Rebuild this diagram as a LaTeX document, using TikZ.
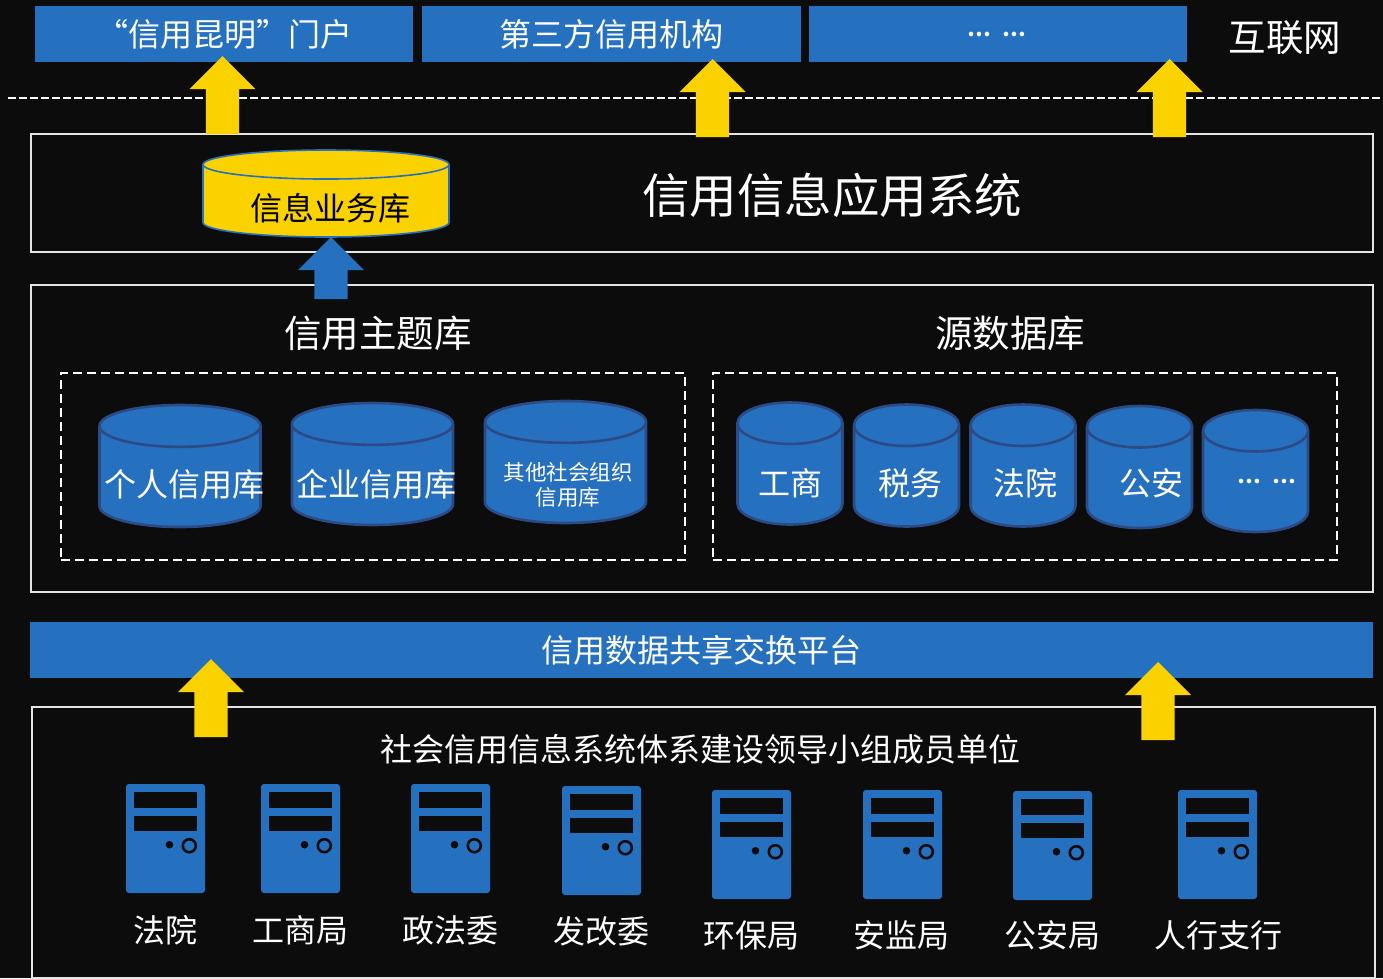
\documentclass[tikz,border=0pt]{standalone}
\usepackage{fontspec}
\setmainfont{Noto Sans CJK SC}
\usepackage{xcolor}
\usetikzlibrary{shapes.geometric,shapes.arrows}
\definecolor{pagebg}{HTML}{0C0C0C}
\definecolor{mainblue}{HTML}{2670C0}
\definecolor{edgeblue}{HTML}{2C4A84}
\definecolor{mainyellow}{HTML}{FAD200}
\newcommand{\px}[1]{\fontsize{#1}{#1}\selectfont}
\newcommand{\moredots}{\bfseries …\hspace{11pt}…}
\tikzset{
    bluebox/.style={rectangle, fill=mainblue, text=white, inner sep=0pt, outer sep=0pt, font=\px{32}},
    frame/.style={rectangle, draw=white!90!black, line width=1.8pt, inner sep=0pt, outer sep=0pt},
    dashframe/.style={rectangle, draw=white, line width=1.8pt, dash pattern=on 9pt off 5pt, inner sep=0pt, outer sep=0pt, minimum width=624, minimum height=187},
    blockarrow/.style={single arrow, shape border rotate=90, anchor=tail, minimum height=78, minimum width=66, single arrow head extend=16.5, single arrow tip angle=90, inner ysep=0pt, inner xsep=16.5pt, outer sep=0pt},
    dbcyl/.style={cylinder, shape border rotate=90, anchor=shape center, fill=mainblue, draw=edgeblue, line width=2.6pt, inner ysep=0pt, inner xsep=#1, outer sep=0pt, minimum height=122},
    lbl/.style={text=white, inner sep=0pt, font=\px{32}}
}
\begin{document}
\begin{tikzpicture}[x=1pt,y=-1pt]
    \useasboundingbox[fill=pagebg] (0,0) rectangle (1383,978);

    \node (portal) [bluebox, minimum width=378, minimum height=56] at (224,34) {};
    \node (agency) [bluebox, minimum width=379, minimum height=56] at (611.5,34) {第三方信用机构};
    \node (others) [bluebox, minimum width=378, minimum height=56] at (998,34) {};
    \node (portaltxt) [lbl] at (224.5,34) {“信用昆明”门户};
    \node (otherstxt) [lbl, font=\px{21}] at (997,34) {\moredots};
    \node (internet) [lbl, font=\px{37.5}] at (1285,38) {互联网};

    \coordinate (dashl) at (8,98);
    \coordinate (dashr) at (1383,98);
    \draw[white, line width=2pt, dash pattern=on 8pt off 3pt] (dashl) -- (dashr);

    \node (appframe) [frame, minimum width=1342, minimum height=118] at (702,193) {};
    \node (dbframe) [frame, minimum width=1342, minimum height=307] at (702,438.5) {};
    \node (unitframe) [frame, minimum width=1343, minimum height=271] at (703.5,842.5) {};

    \node (apptitle) [lbl, font=\px{47.5}] at (832,195) {信用信息应用系统};
    \node (bizdb) [dbcyl=123pt, fill=mainyellow, draw=mainblue, line width=1.6pt, minimum height=87, aspect=0.118] at (326,193.5) {};
    \node (bizdbtxt) [lbl, text=black] at (330,208) {信息业务库};

    \node (themetitle) [lbl, font=\px{37.5}] at (378,333.5) {信用主题库};
    \node (srctitle) [lbl, font=\px{37.5}] at (1010,333.5) {源数据库};
    \node (themebox) [dashframe] at (373,466.5) {};
    \node (srcbox) [dashframe] at (1025,466.5) {};

    \node (person) [dbcyl=80.5pt, aspect=0.26] at (180,466) {};
    \node (persontxt) [lbl] at (184,484) {个人信用库};
    \node (firm) [dbcyl=80.5pt, aspect=0.26] at (372.5,464) {};
    \node (firmtxt) [lbl] at (376,484) {企业信用库};
    \node (social) [dbcyl=80.5pt, aspect=0.26] at (565.5,462) {};
    \node (socialtxt) [lbl, font=\px{21.5}, align=center] at (568,485) {其他社会组织\\[4pt]信用库};

    \node (src1) [dbcyl=52.5pt, aspect=0.395] at (790,463.5) {};
    \node (src1txt) [lbl] at (790,483) {工商};
    \node (src2) [dbcyl=52.5pt, aspect=0.395] at (906.5,465.5) {};
    \node (src2txt) [lbl] at (910,483) {税务};
    \node (src3) [dbcyl=52.5pt, aspect=0.395] at (1023,465.5) {};
    \node (src3txt) [lbl] at (1025,483) {法院};
    \node (src4) [dbcyl=52.5pt, aspect=0.395] at (1139.5,467) {};
    \node (src4txt) [lbl] at (1151,483) {公安};
    \node (src5) [dbcyl=52.5pt, aspect=0.395] at (1255.5,471) {};
    \node (src5txt) [lbl, font=\px{21}] at (1267,481) {\moredots};

    \node (platform) [bluebox, minimum width=1343, minimum height=56] at (701.5,650) {};
    \node (platformtxt) [lbl] at (701,650) {信用数据共享交换平台};
    \node (unittitle) [lbl] at (700,749) {社会信用信息系统体系建设领导小组成员单位};

    \node (up1) [blockarrow, fill=mainyellow] at (222.5,134) {};
    \node (up2) [blockarrow, fill=mainyellow] at (712.5,137) {};
    \node (up3) [blockarrow, fill=mainyellow] at (1169.5,137) {};
    \node (up4) [blockarrow, fill=mainblue, minimum height=62] at (331,299) {};
    \node (up5) [blockarrow, fill=mainyellow] at (211,737) {};
    \node (up6) [blockarrow, fill=mainyellow] at (1158,740) {};

    \foreach \i/\x/\y/\lx/\ly/\name in {1/126/784/165/930.5/法院, 2/261/784/300/930.5/工商局, 3/411/784/450/930.5/政法委, 4/562/786/601/931.5/发改委, 5/712/790/751/935.5/环保局, 6/863/790/901/935.5/安监局, 7/1013/791/1052/935.5/公安局, 8/1178/790/1218/935.5/人行支行} {
        \begin{scope}[shift={(\x,\y)}]
            \fill[mainblue, rounded corners=3pt] (0,0) rectangle (79,109);
            \fill[pagebg] (8,8) rectangle (71,23.5);
            \fill[pagebg] (8,31.5) rectangle (71,47);
            \fill[pagebg] (43.5,60.7) circle (3.8pt);
            \draw[pagebg, line width=2.6pt] (63.3,61.7) circle (6.5pt);
        \end{scope}
        \node (srv\i) [lbl] at (\lx,\ly) {\name};
    }
\end{tikzpicture}
\end{document}
